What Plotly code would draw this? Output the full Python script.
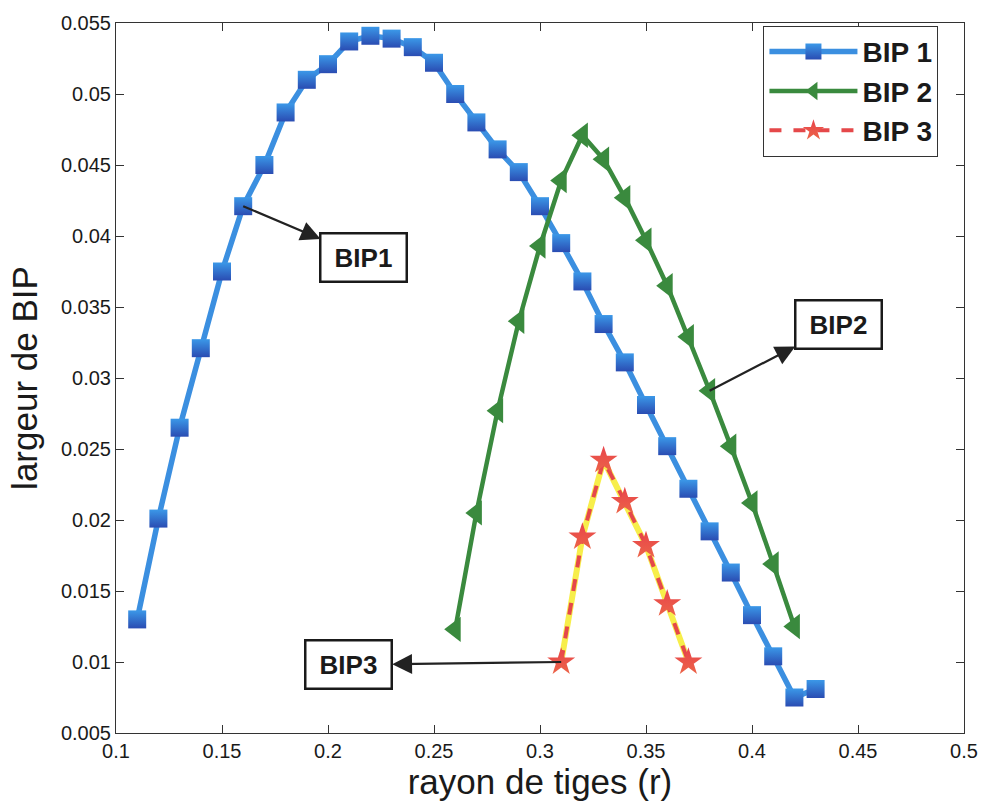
import plotly.graph_objects as go

# Rayon de tiges (r) et largeur de bande interdite photonique
r_bip1 = [0.11, 0.12, 0.13, 0.14, 0.15, 0.16, 0.17, 0.18, 0.19, 0.20, 0.21,
          0.22, 0.23, 0.24, 0.25, 0.26, 0.27, 0.28, 0.29, 0.30, 0.31, 0.32,
          0.33, 0.34, 0.35, 0.36, 0.37, 0.38, 0.39, 0.40, 0.41, 0.42, 0.43]
w_bip1 = [0.0130, 0.0201, 0.0265, 0.0321, 0.0375, 0.0421, 0.0450, 0.0487,
          0.0510, 0.0521, 0.0537, 0.0541, 0.0539, 0.0533, 0.0522, 0.0500,
          0.0480, 0.0461, 0.0445, 0.0421, 0.0395, 0.0368, 0.0338, 0.0311,
          0.0281, 0.0252, 0.0222, 0.0192, 0.0163, 0.0133, 0.0104, 0.0075,
          0.0081]

r_bip2 = [0.26, 0.27, 0.28, 0.29, 0.30, 0.31, 0.32, 0.33, 0.34, 0.35, 0.36,
          0.37, 0.38, 0.39, 0.40, 0.41, 0.42]
w_bip2 = [0.0123, 0.0205, 0.0277, 0.0340, 0.0393, 0.0439, 0.0471, 0.0454,
          0.0427, 0.0397, 0.0365, 0.0329, 0.0291, 0.0252, 0.0212, 0.0169,
          0.0125]

r_bip3 = [0.31, 0.32, 0.33, 0.34, 0.35, 0.36, 0.37]
w_bip3 = [0.0100, 0.0188, 0.0242, 0.0213, 0.0182, 0.0141, 0.0100]

x_ticks = [0.1, 0.15, 0.2, 0.25, 0.3, 0.35, 0.4, 0.45, 0.5]
x_tick_text = ["0.1", "0.15", "0.2", "0.25", "0.3", "0.35", "0.4", "0.45", "0.5"]
y_ticks = [0.005, 0.01, 0.015, 0.02, 0.025, 0.03, 0.035, 0.04, 0.045, 0.05, 0.055]
y_tick_text = ["0.005", "0.01", "0.015", "0.02", "0.025", "0.03", "0.035",
               "0.04", "0.045", "0.05", "0.055"]

FONT = "Liberation Sans, Arial, sans-serif"

fig = go.Figure()

fig.add_trace(go.Scatter(
    x=r_bip1, y=w_bip1, mode="lines+markers", name="BIP 1",
    line=dict(color="#3b8fe0", width=5.5),
    marker=dict(symbol="square", size=18, color="#3b98e8",
                gradient=dict(type="vertical", color="#2a4cb2"),
                line=dict(width=0)),
))

fig.add_trace(go.Scatter(
    x=r_bip2, y=w_bip2, mode="lines+markers", name="BIP 2",
    line=dict(color="#3a8a3e", width=4.5),
    marker=dict(symbol="triangle-left", size=22, color="#3a8a3e",
                line=dict(width=0)),
))

# BIP 3: yellow line under a red dashed line, red stars
fig.add_trace(go.Scatter(
    x=r_bip3, y=w_bip3, mode="lines", name="BIP 3", legendgroup="bip3",
    showlegend=False, line=dict(color="#f7ee4a", width=6),
))
fig.add_trace(go.Scatter(
    x=r_bip3, y=w_bip3, mode="lines+markers", name="BIP 3", legendgroup="bip3",
    line=dict(color="#e5484a", width=4, dash="dash"),
    marker=dict(symbol="star", size=21, color="#e8434b",
                gradient=dict(type="vertical", color="#ec6448"),
                line=dict(width=0)),
))


def label(text, px, py, bx, by):
    # arrow drawn from the data point towards the boxed label
    fig.add_annotation(
        x=px, y=py, ax=bx, ay=by, xref="x", yref="y", axref="x", ayref="y",
        text="<b>%s</b>" % text, showarrow=True, arrowside="start",
        startarrowhead=2, startarrowsize=1.8, arrowwidth=2.2,
        arrowcolor="#222222",
        font=dict(family=FONT, size=26, color="#1a1a1a"),
        bgcolor="white", bordercolor="#1a1a1a", borderwidth=2.5,
        width=84, height=46, borderpad=0,
    )


label("BIP1", 0.16, 0.0421, 0.2169, 0.0385)
label("BIP2", 0.38, 0.0291, 0.4408, 0.0338)
label("BIP3", 0.31, 0.0100, 0.2099, 0.0098)

axis_common = dict(
    showgrid=False, zeroline=False, showline=True, linecolor="#333333",
    linewidth=1, mirror="ticks", ticks="inside", ticklen=8,
    tickcolor="#333333", tickfont=dict(family=FONT, size=20, color="#1a1a1a"),
)

fig.update_xaxes(
    range=[0.1, 0.5], tickvals=x_ticks, ticktext=x_tick_text,
    title=dict(text="rayon de tiges (r)", font=dict(family=FONT, size=35,
                                                     color="#1a1a1a"),
               standoff=6),
    **axis_common,
)
fig.update_yaxes(
    range=[0.005, 0.055], tickvals=y_ticks, ticktext=y_tick_text,
    title=dict(text="largeur de BIP", font=dict(family=FONT, size=35,
                                                 color="#1a1a1a"),
               standoff=12),
    **axis_common,
)

fig.update_layout(
    width=990, height=808,
    margin=dict(l=116, r=22, t=22, b=75),
    paper_bgcolor="white", plot_bgcolor="white",
    legend=dict(
        x=0.7635, y=0.996, xanchor="left", yanchor="top",
        bgcolor="white", bordercolor="#333333", borderwidth=1,
        font=dict(family=FONT, size=28, color="#1a1a1a", weight="bold"),
        itemwidth=88, tracegroupgap=0,
    ),
)

fig.write_html("out.html")
